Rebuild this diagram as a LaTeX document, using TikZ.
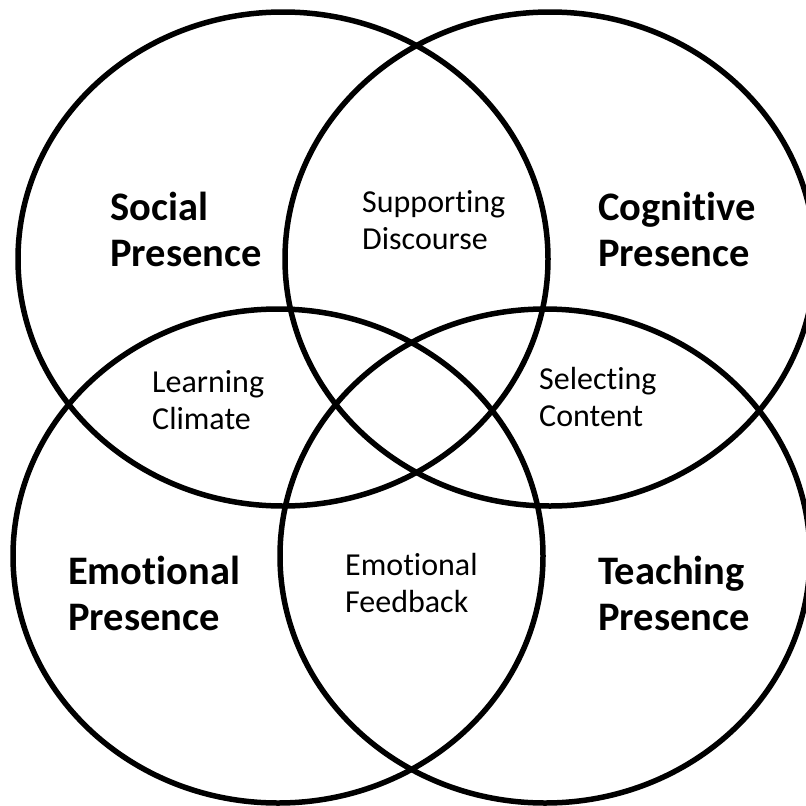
\documentclass[tikz,border=0pt]{standalone}
\usepackage{fontspec}
\setmainfont{Carlito}[Ligatures=NoCommon]
\begin{document}
\begin{tikzpicture}[x=1pt,y=-1pt,
  ring/.style={draw=black,line width=5.5pt},
  mainlabel/.style={anchor=base west,inner sep=0pt,font=\fontsize{40.5}{46}\selectfont\bfseries},
  sublabel/.style={anchor=base west,inner sep=0pt,font=\fontsize{32}{37}\selectfont}]
  \useasboundingbox (0,0) rectangle (806,806);
  \fill[white] (0,0) rectangle (806,806);
  \clip (0,0) rectangle (806,806);

  % the four presences as overlapping rings
  \draw[ring] (283,259) ellipse [x radius=265, y radius=247];
  \draw[ring] (550,259) ellipse [x radius=265, y radius=247];
  \draw[ring] (278,556) ellipse [x radius=265, y radius=247];
  \draw[ring] (545,556) ellipse [x radius=265, y radius=247];

  % presence names
  \node[mainlabel] (social) at (110,220) {\begin{tabular}[t]{@{}l@{}}Social\\Presence\end{tabular}};
  \node[mainlabel] (cognitive) at (598,220) {\begin{tabular}[t]{@{}l@{}}Cognitive\\Presence\end{tabular}};
  \node[mainlabel] (emotional) at (68,584) {\begin{tabular}[t]{@{}l@{}}Emotional\\Presence\end{tabular}};
  \node[mainlabel] (teaching) at (598,584) {\begin{tabular}[t]{@{}l@{}}Teaching\\Presence\end{tabular}};

  % overlap names
  \node[sublabel] (discourse) at (362,212) {\begin{tabular}[t]{@{}l@{}}Supporting\\Discourse\end{tabular}};
  \node[sublabel] (climate) at (152,392) {\begin{tabular}[t]{@{}l@{}}Learning\\Climate\end{tabular}};
  \node[sublabel] (content) at (539,389) {\begin{tabular}[t]{@{}l@{}}Selecting\\Content\end{tabular}};
  \node[sublabel] (feedback) at (345,575) {\begin{tabular}[t]{@{}l@{}}Emotional\\Feedback\end{tabular}};
\end{tikzpicture}
\end{document}
